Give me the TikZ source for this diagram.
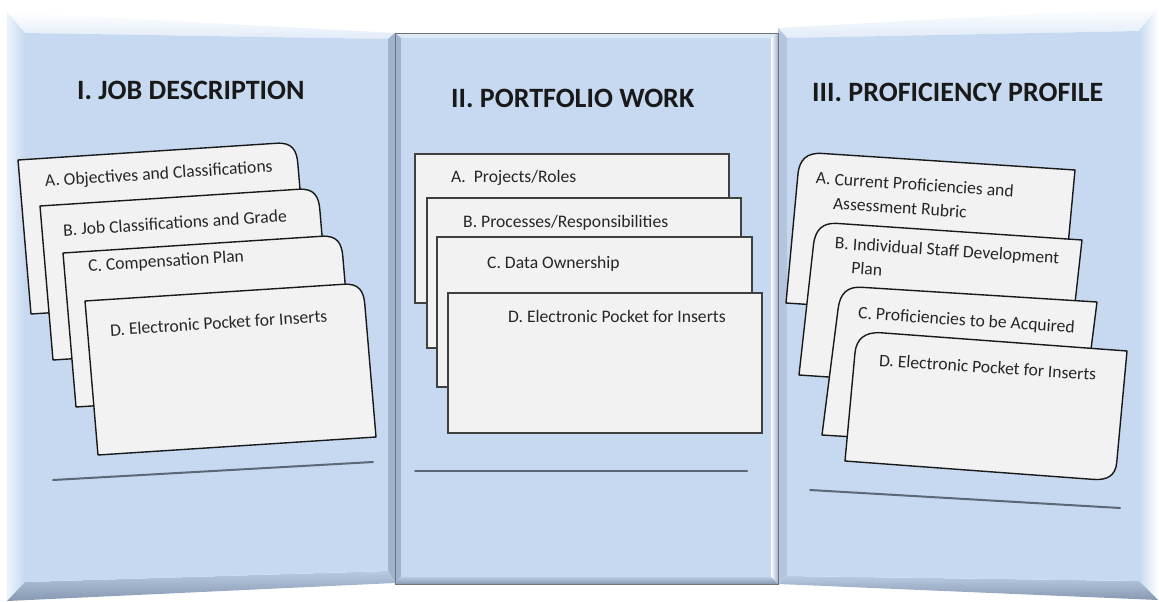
\documentclass[tikz,border=0pt]{standalone}
\usepackage{fontspec}
\setmainfont{Carlito}
\usetikzlibrary{positioning}
\definecolor{face}{RGB}{198,217,240}
\definecolor{bevlight}{RGB}{236,243,251}
\definecolor{bevmid}{RGB}{160,179,204}
\definecolor{bevdark}{RGB}{96,113,137}
\definecolor{cardfill}{RGB}{242,242,242}
\definecolor{rulegray}{RGB}{92,104,118}
\tikzset{
    card/.style={fill=cardfill, draw=black!90, line width=1.4pt, line join=round},
    flatcard/.style={fill=cardfill, draw=black!75, line width=1.2pt},
    cardtext/.style={anchor=west, inner sep=0pt, text=black!85,
        font=\fontsize{17.6}{24}\selectfont},
    title/.style={anchor=west, inner sep=0pt, text=black!90,
        font=\fontsize{28}{32}\selectfont\bfseries},
    sepline/.style={draw=rulegray, line width=2pt, line cap=round}
}

\begin{document}
\begin{tikzpicture}[x=1pt, y=-1pt]
    \def\tabright{(0,0) -- (0.93,0) .. controls (0.985,0) and (1,0.05) .. (1,0.14) -- (1,1) -- (0,1) -- cycle}
    \def\tableft{(0,0.15) .. controls (0,0.05) and (0.025,0) .. (0.08,0) -- (1,0) -- (1,1) -- (0,1) -- cycle}
    \def\tabboth{(0,0.17) .. controls (0,0.06) and (0.03,0) .. (0.09,0) -- (1,0) -- (1,0.86) .. controls (1,0.96) and (0.97,1) .. (0.92,1) -- (0,1) -- cycle}
\useasboundingbox (0,0) rectangle (1159,602);
% left panel
\coordinate (L1) at (7,12);   \coordinate (L2) at (395,33);
\coordinate (L3) at (395,583);\coordinate (L4) at (7,601);
\coordinate (l1) at (25,33);  \coordinate (l2) at (388,39);
\coordinate (l3) at (388,571);\coordinate (l4) at (25,582);
\shade[top color=white, bottom color=bevlight!70!face] (L1) -- (L2) -- (l2) -- (l1) -- cycle;
\shade[left color=bevlight, right color=face] (L1) -- (l1) -- (l4) -- (L4) -- cycle;
\fill[bevmid] (L2) -- (L3) -- (l3) -- (l2) -- cycle;
\shade[top color=face!60!bevmid, bottom color=bevmid!60!bevdark] (l4) -- (l3) -- (L3) -- (L4) -- cycle;
\fill[face] (l1) -- (l2) -- (l3) -- (l4) -- cycle;
% right panel
\coordinate (R1) at (778,28);  \coordinate (R2) at (1158,7);
\coordinate (R3) at (1158,600);\coordinate (R4) at (778,584);
\coordinate (r1) at (787,38);  \coordinate (r2) at (1139,31);
\coordinate (r3) at (1139,581);\coordinate (r4) at (787,576);
\shade[top color=white, bottom color=bevlight!70!face] (R1) -- (R2) -- (r2) -- (r1) -- cycle;
\fill[bevmid!50!face] (R1) -- (r1) -- (r4) -- (R4) -- cycle;
\shade[left color=face, right color=white] (R2) -- (R3) -- (r3) -- (r2) -- cycle;
\shade[top color=face!60!bevmid, bottom color=bevmid!60!bevdark] (r4) -- (r3) -- (R3) -- (R4) -- cycle;
\fill[face] (r1) -- (r2) -- (r3) -- (r4) -- cycle;
% middle panel
\coordinate (M1) at (395,33);  \coordinate (M2) at (778,33);
\coordinate (M3) at (778,584); \coordinate (M4) at (395,584);
\coordinate (m1) at (401,38);  \coordinate (m2) at (771,38);
\coordinate (m3) at (771,577); \coordinate (m4) at (401,577);
\fill[bevlight!60!face] (M1) -- (M2) -- (m2) -- (m1) -- cycle;
\fill[bevmid] (M1) -- (m1) -- (m4) -- (M4) -- cycle;
\shade[left color=white, right color=bevmid] (M2) -- (M3) -- (m3) -- (m2) -- cycle;
\shade[top color=face!60!bevmid, bottom color=bevmid!60!bevdark] (m4) -- (m3) -- (M3) -- (M4) -- cycle;
\fill[face] (m1) -- (m2) -- (m3) -- (m4) -- cycle;
\draw[black!55, line width=0.8pt] (M1) -- (M2) -- (M3) -- (M4) -- cycle;

\node[title] (titleJob)  at (77,90)  {I. JOB DESCRIPTION};
\node[title] (titlePort) at (451,98) {II. PORTFOLIO WORK};
\node[title] (titleProf) at (812,92) {III. PROFICIENCY PROFILE};

% job description cards
\foreach \cx/\cy in {18/160, 40/206, 63/253, 85/301}{
    \begin{scope}[shift={(\cx,\cy)}, x={(278pt,18pt)}, y={(13pt,-154pt)}]
        \draw[card] \tabright;
    \end{scope}
}
\node[cardtext, rotate=3.7] (jobA) at (45,182)  {A. Objectives and Classifications};
\node[cardtext, rotate=3.7] (jobB) at (63,230)  {B. Job Classifications and Grade};
\node[cardtext, rotate=3.7] (jobC) at (88,267)  {C. Compensation Plan};
\node[cardtext, rotate=3.7] (jobD) at (110,330) {D. Electronic Pocket for Inserts};

% portfolio cards
\draw[flatcard] (415,154) rectangle (729,303);
\draw[flatcard] (427,198) rectangle (741,348);
\draw[flatcard] (437,237) rectangle (752,387);
\draw[flatcard] (448,293) rectangle (762,433);
\node[cardtext] (portA) at (451,178) {A.\ \ Projects/Roles};
\node[cardtext] (portB) at (463,223) {B. Processes/Responsibilities};
\node[cardtext] (portC) at (487,264) {C. Data Ownership};
\node[cardtext] (portD) at (508,316) {D. Electronic Pocket for Inserts};

% proficiency cards
\begin{scope}[shift={(800,152)}, x={(275pt,-18pt)}, y={(-14pt,-151pt)}]
    \draw[card] \tableft;
\end{scope}
\begin{scope}[shift={(816,222)}, x={(266pt,-18pt)}, y={(-17pt,-153pt)}]
    \draw[card] \tableft;
\end{scope}
\begin{scope}[shift={(841,286)}, x={(256pt,-16pt)}, y={(-19pt,-149pt)}]
    \draw[card] \tableft;
\end{scope}
\begin{scope}[shift={(857,331)}, x={(270pt,-20pt)}, y={(-12pt,-130pt)}]
    \draw[card] \tabboth;
\end{scope}
\node[cardtext, rotate=-3.8] (profA) at (815,191)
    {\begin{tabular}{@{}l@{\ }l@{}}A. & Current Proficiencies and\\ & Assessment Rubric\end{tabular}};
\node[cardtext, rotate=-3.8] (profB) at (834,256)
    {\begin{tabular}{@{}l@{\ }l@{}}B. & Individual Staff Development\\ & Plan\end{tabular}};
\node[cardtext, rotate=-3.8] (profC) at (858,314) {C. Proficiencies to be Acquired};
\node[cardtext, rotate=-3.8] (profD) at (879,360) {D. Electronic Pocket for Inserts};

% signature lines
\draw[sepline] (53,480) -- (373,462);
\draw[sepline] (415,471) -- (747,471);
\draw[sepline] (810,490) -- (1120,508);
\end{tikzpicture}
\end{document}
